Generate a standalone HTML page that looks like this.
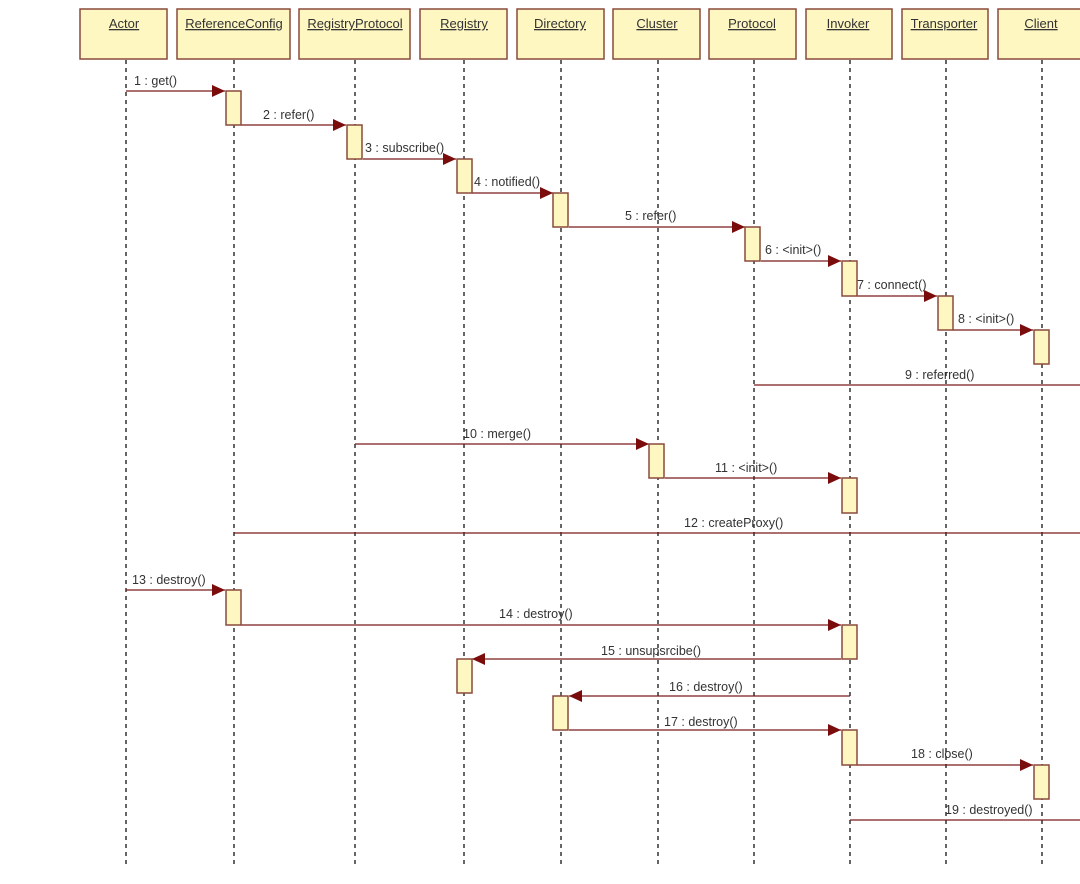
<!DOCTYPE html>
<html><head><meta charset="utf-8"><style>
html,body{margin:0;padding:0;background:#fff;}
svg{display:block;}
text{font-family:"Liberation Sans","DejaVu Sans",sans-serif;font-size:12.5px;fill:#333;}
.h{text-decoration:underline;font-size:13px;}
</style></head><body>
<svg width="1080" height="884" viewBox="0 0 1080 884" xmlns="http://www.w3.org/2000/svg">
<defs>
<marker id="a" markerWidth="13" markerHeight="12" refX="13" refY="6" orient="auto" markerUnits="userSpaceOnUse">
<path d="M0,0 L13,6 L0,12 Z" fill="#7a0c0c"/>
</marker>
</defs>
<g stroke="#333" stroke-width="1.5" stroke-dasharray="4,4">
<line x1="126" y1="60" x2="126" y2="866"/>
<line x1="234" y1="60" x2="234" y2="866"/>
<line x1="355" y1="60" x2="355" y2="866"/>
<line x1="464" y1="60" x2="464" y2="866"/>
<line x1="561" y1="60" x2="561" y2="866"/>
<line x1="658" y1="60" x2="658" y2="866"/>
<line x1="754" y1="60" x2="754" y2="866"/>
<line x1="850" y1="60" x2="850" y2="866"/>
<line x1="946" y1="60" x2="946" y2="866"/>
<line x1="1042" y1="60" x2="1042" y2="866"/>
</g>
<g fill="#fff7c2" stroke="#8a4a3c" stroke-width="1.5">
<rect x="80" y="9" width="87" height="50"/>
<rect x="177" y="9" width="113" height="50"/>
<rect x="299" y="9" width="111" height="50"/>
<rect x="420" y="9" width="87" height="50"/>
<rect x="517" y="9" width="87" height="50"/>
<rect x="613" y="9" width="87" height="50"/>
<rect x="709" y="9" width="87" height="50"/>
<rect x="806" y="9" width="86" height="50"/>
<rect x="902" y="9" width="86" height="50"/>
<rect x="998" y="9" width="90" height="50"/>
</g>
<g text-anchor="middle">
<text class="h" x="124" y="28">Actor</text>
<text class="h" x="234" y="28">ReferenceConfig</text>
<text class="h" x="355" y="28">RegistryProtocol</text>
<text class="h" x="464" y="28">Registry</text>
<text class="h" x="560" y="28">Directory</text>
<text class="h" x="657" y="28">Cluster</text>
<text class="h" x="752" y="28">Protocol</text>
<text class="h" x="848" y="28">Invoker</text>
<text class="h" x="944" y="28">Transporter</text>
<text class="h" x="1041" y="28">Client</text>
</g>
<g stroke="#7a1a1a" stroke-width="1.3" fill="none">
<line x1="126" y1="91" x2="225" y2="91" marker-end="url(#a)"/>
<line x1="241" y1="125" x2="346" y2="125" marker-end="url(#a)"/>
<line x1="363" y1="159" x2="456" y2="159" marker-end="url(#a)"/>
<line x1="472" y1="193" x2="553" y2="193" marker-end="url(#a)"/>
<line x1="569" y1="227" x2="745" y2="227" marker-end="url(#a)"/>
<line x1="761" y1="261" x2="841" y2="261" marker-end="url(#a)"/>
<line x1="857" y1="296" x2="937" y2="296" marker-end="url(#a)"/>
<line x1="953" y1="330" x2="1033" y2="330" marker-end="url(#a)"/>
<line x1="754" y1="385" x2="1080" y2="385"/>
<line x1="355" y1="444" x2="649" y2="444" marker-end="url(#a)"/>
<line x1="665" y1="478" x2="841" y2="478" marker-end="url(#a)"/>
<line x1="234" y1="533" x2="1080" y2="533"/>
<line x1="126" y1="590" x2="225" y2="590" marker-end="url(#a)"/>
<line x1="241" y1="625" x2="841" y2="625" marker-end="url(#a)"/>
<line x1="841" y1="659" x2="472" y2="659" marker-end="url(#a)"/>
<line x1="850" y1="696" x2="569" y2="696" marker-end="url(#a)"/>
<line x1="569" y1="730" x2="841" y2="730" marker-end="url(#a)"/>
<line x1="857" y1="765" x2="1033" y2="765" marker-end="url(#a)"/>
<line x1="850" y1="820" x2="1080" y2="820"/>
</g>
<g fill="#fff7c2" stroke="#8a4a3c" stroke-width="1.5">
<rect x="226" y="91" width="15" height="34"/>
<rect x="347" y="125" width="15" height="34"/>
<rect x="457" y="159" width="15" height="34"/>
<rect x="553" y="193" width="15" height="34"/>
<rect x="745" y="227" width="15" height="34"/>
<rect x="842" y="261" width="15" height="35"/>
<rect x="938" y="296" width="15" height="34"/>
<rect x="1034" y="330" width="15" height="34"/>
<rect x="649" y="444" width="15" height="34"/>
<rect x="842" y="478" width="15" height="35"/>
<rect x="226" y="590" width="15" height="35"/>
<rect x="842" y="625" width="15" height="34"/>
<rect x="457" y="659" width="15" height="34"/>
<rect x="553" y="696" width="15" height="34"/>
<rect x="842" y="730" width="15" height="35"/>
<rect x="1034" y="765" width="15" height="34"/>
</g>
<g>
<text x="134" y="85">1 : get()</text>
<text x="263" y="119">2 : refer()</text>
<text x="365" y="152">3 : subscribe()</text>
<text x="474" y="186">4 : notified()</text>
<text x="625" y="220">5 : refer()</text>
<text x="765" y="254">6 : &lt;init&gt;()</text>
<text x="857" y="289">7 : connect()</text>
<text x="958" y="323">8 : &lt;init&gt;()</text>
<text x="905" y="379">9 : referred()</text>
<text x="463" y="438">10 : merge()</text>
<text x="715" y="472">11 : &lt;init&gt;()</text>
<text x="684" y="527">12 : createProxy()</text>
<text x="132" y="584">13 : destroy()</text>
<text x="499" y="618">14 : destroy()</text>
<text x="601" y="655">15 : unsupsrcibe()</text>
<text x="669" y="691">16 : destroy()</text>
<text x="664" y="726">17 : destroy()</text>
<text x="911" y="758">18 : close()</text>
<text x="945" y="814">19 : destroyed()</text>
</g>
</svg>
</body></html>
